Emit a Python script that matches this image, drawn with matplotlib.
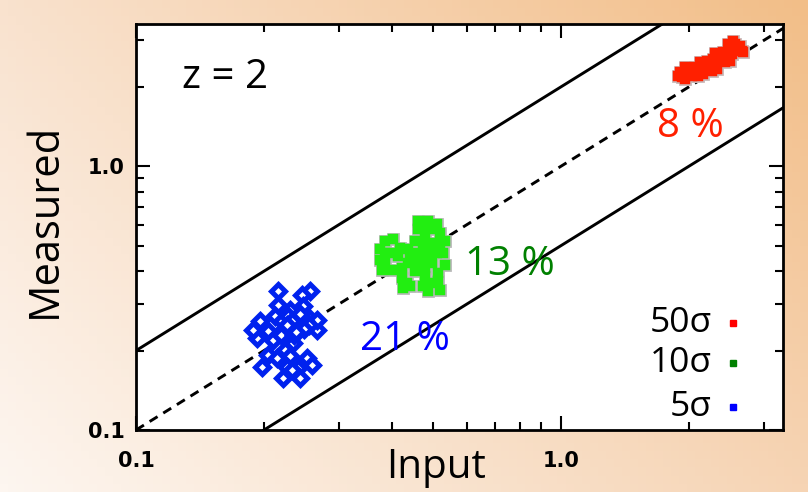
import numpy as np
import matplotlib
matplotlib.use("Agg")
import matplotlib.pyplot as plt

# ---- data ----
blue_x = [0.2155, 0.2567, 0.2454, 0.2155, 0.2123, 0.2303, 0.2522, 0.2662, 0.1958, 0.2048,
          0.1923, 0.2221, 0.2388, 0.2345, 0.2103, 0.2048, 0.2242, 0.2303, 0.2522, 0.2591,
          0.1976, 0.2263, 0.2409, 0.2221, 0.2432, 0.2144, 0.2202, 0.2388, 0.2662, 0.1888,
          0.2303, 0.2475, 0.2325, 0.2400, 0.2450, 0.2350, 0.2500, 0.2280, 0.2420, 0.2550,
          0.2200, 0.2350, 0.2330, 0.2480, 0.2380, 0.2270, 0.2430]
blue_y = [0.3357, 0.3357, 0.3261, 0.2987, 0.2697, 0.2620, 0.2697, 0.2400, 0.2581, 0.2365,
          0.2233, 0.2400, 0.2400, 0.2137, 0.2199, 0.1929, 0.2015, 0.1900, 0.1874, 0.1767,
          0.1741, 0.1741, 0.1717, 0.1572, 0.1572, 0.1874, 0.2581, 0.2778, 0.2620, 0.2400,
          0.2860, 0.2944, 0.1690, 0.2550, 0.2500, 0.2480, 0.2580, 0.2700, 0.2650, 0.2500,
          0.2300, 0.2300, 0.2600, 0.2420, 0.2350, 0.2500, 0.2750]

green_x = [0.4616, 0.4873, 0.5099, 0.4616, 0.4918, 0.5191, 0.5333, 0.5285, 0.5333, 0.5052,
           0.4786, 0.4534, 0.3854, 0.4032, 0.3750, 0.3750, 0.3784, 0.3996, 0.4218, 0.4374,
           0.4143, 0.3959, 0.4374, 0.4181, 0.4616, 0.4873, 0.5099, 0.4701, 0.4962, 0.4534,
           0.4786, 0.5145, 0.5007, 0.4743, 0.5191, 0.4873, 0.4218, 0.4335, 0.4256, 0.4413,
           0.3854, 0.3854, 0.4413, 0.4534, 0.4786, 0.5145, 0.4743, 0.4962, 0.5191, 0.4786]
green_y = [0.6197, 0.6197, 0.6020, 0.5760, 0.5760, 0.5595, 0.5204, 0.4696, 0.4241, 0.5129,
           0.5280, 0.5204, 0.5204, 0.5280, 0.4836, 0.4431, 0.4059, 0.4059, 0.4118, 0.4303,
           0.4561, 0.4696, 0.4836, 0.4906, 0.4696, 0.4696, 0.4696, 0.4303, 0.4303, 0.4000,
           0.3828, 0.3942, 0.3611, 0.3508, 0.3404, 0.3357, 0.3773, 0.3611, 0.3458, 0.3508,
           0.4696, 0.4303, 0.4561, 0.4303, 0.4118, 0.3664, 0.4906, 0.4906, 0.5129, 0.5760]

red_x = [1.888, 1.923, 1.905, 1.993, 2.011, 2.067, 2.104, 2.143, 2.182, 2.202,
         2.242, 2.283, 2.304, 2.345, 2.366, 2.410, 2.454, 2.498, 2.521, 2.567,
         2.590, 2.638, 2.662, 2.544, 2.262, 2.104, 2.030, 2.432,
         1.957, 2.162, 2.325, 2.498, 2.685, 1.957, 2.124, 2.304, 2.476]
red_y = [2.206, 2.174, 2.271, 2.304, 2.238, 2.372, 2.304, 2.443, 2.372, 2.515,
         2.443, 2.552, 2.407, 2.628, 2.515, 2.705, 2.590, 2.786, 2.667, 2.910,
         2.786, 2.868, 2.745, 2.996, 2.304, 2.206, 2.206, 2.479,
         2.142, 2.238, 2.338, 2.515, 2.705, 2.372, 2.479, 2.686, 2.900]

line_x = [0.1, 3.5]
ratios = [2.0, 1.0, 0.5]          # upper solid, dashed 1:1, lower solid
labels_pct = ["8 %", "13 %", "21 %"]
legend_labels = ["50σ", "10σ", "5σ"]

RED = "#ff2000"
GREEN_FILL = "#22ee11"
GREEN_TXT = "#008000"
BLUE = "#0022ee"
BLUE_TXT = "#0000ff"

FONT = ["Open Sans", "DejaVu Sans"]

fig = plt.figure(figsize=(8.08, 4.92), dpi=100)

# background gradient
bg = fig.add_axes([0, 0, 1, 1], zorder=-10)
ny, nx = 60, 100
u = np.linspace(0, 1, nx)[None, :, None]
v = np.linspace(0, 1, ny)[:, None, None]
tl = np.array([249, 226, 206]) / 255
tr = np.array([242, 190, 136]) / 255
bl = np.array([253, 246, 240]) / 255
br = np.array([246, 212, 180]) / 255
img = (1 - v) * ((1 - u) * tl + u * tr) + v * ((1 - u) * bl + u * br)
bg.imshow(img, extent=[0, 1, 0, 1], aspect="auto", origin="upper")
bg.set_xlim(0, 1); bg.set_ylim(0, 1)
bg.axis("off")

ax = fig.add_axes([0.1683, 0.126, 0.8007, 0.825])
ax.set_facecolor("white")
ax.set_xscale("log"); ax.set_yscale("log")
ax.set_xlim(0.1, 3.33)
ax.set_ylim(0.1, 3.46)

lx = np.array(line_x)
for r in ratios:
    if r == 1.0:
        ax.plot(lx, lx * r, color="black", lw=2.1, ls=(0, (3.2, 2.3)), zorder=2)
    else:
        ax.plot(lx, lx * r, color="black", lw=2.1, zorder=2)

# green cluster: grey outline then fill
ax.plot(green_x, green_y, ls="none", marker="s", ms=7.5, mfc=GREEN_FILL, mec="#b8b8b8", mew=2.0, zorder=3)
ax.plot(green_x, green_y, ls="none", marker="s", ms=7.5, mfc=GREEN_FILL, mec=GREEN_FILL, mew=0.3, zorder=3.1)
# red cluster
ax.plot(red_x, red_y, ls="none", marker="s", ms=7.0, mfc=RED, mec="#c8b8b8", mew=2.0, zorder=3)
ax.plot(red_x, red_y, ls="none", marker="s", ms=7.0, mfc=RED, mec=RED, mew=0.3, zorder=3.1)
# blue open diamonds (thick edge, small white centre)
ax.plot(blue_x, blue_y, ls="none", marker="D", ms=7.0, mfc="white", mec=BLUE, mew=3.6, zorder=3)

# ticks
ax.set_xticks([0.1, 1.0]); ax.set_xticklabels(["0.1", "1.0"])
ax.set_yticks([0.1, 1.0]); ax.set_yticklabels(["0.1", "1.0"])
ax.tick_params(which="both", direction="in", top=True, right=True, width=1.5, colors="black")
ax.tick_params(which="major", length=10)
ax.tick_params(which="minor", length=6)
ax.tick_params(axis="x", which="major", pad=15)
ax.tick_params(axis="y", which="major", pad=8)
for lab in ax.get_xticklabels() + ax.get_yticklabels():
    lab.set_fontfamily("DejaVu Sans"); lab.set_fontweight("bold"); lab.set_fontsize(15)
for s in ax.spines.values():
    s.set_linewidth(2.0)

ax.set_xlabel("Input", fontsize=29, family=FONT, va="center")
ax.xaxis.set_label_coords(0.464, -0.094)
ax.set_ylabel("Measured", fontsize=30, family=FONT, va="center")
ax.yaxis.set_label_coords(-0.141, 0.517)

ax.text(0.1376, 0.867, "z = 2", transform=ax.transAxes, fontsize=29, family=FONT,
        ha="center", va="center")
ax.text(2.012, 1.407, labels_pct[0], color=RED, fontsize=29, family=FONT, ha="center", va="center")
ax.text(0.7586, 0.424, labels_pct[1], color=GREEN_TXT, fontsize=29, family=FONT, ha="center", va="center")
ax.text(0.4295, 0.2199, labels_pct[2], color=BLUE_TXT, fontsize=29, family=FONT, ha="center", va="center")

leg_y = [0.2635, 0.165, 0.0567]
leg_c = ["#ff0000", "#008000", "#0000ff"]
for lab, yy, c in zip(legend_labels, leg_y, leg_c):
    ax.text(0.890, yy, lab, transform=ax.transAxes, fontsize=25.5, family=FONT, ha="right", va="center")
    ax.plot([0.9227], [yy], transform=ax.transAxes, marker="s", ms=4.5, color=c, ls="none")

fig.savefig("out.png", dpi=100)
